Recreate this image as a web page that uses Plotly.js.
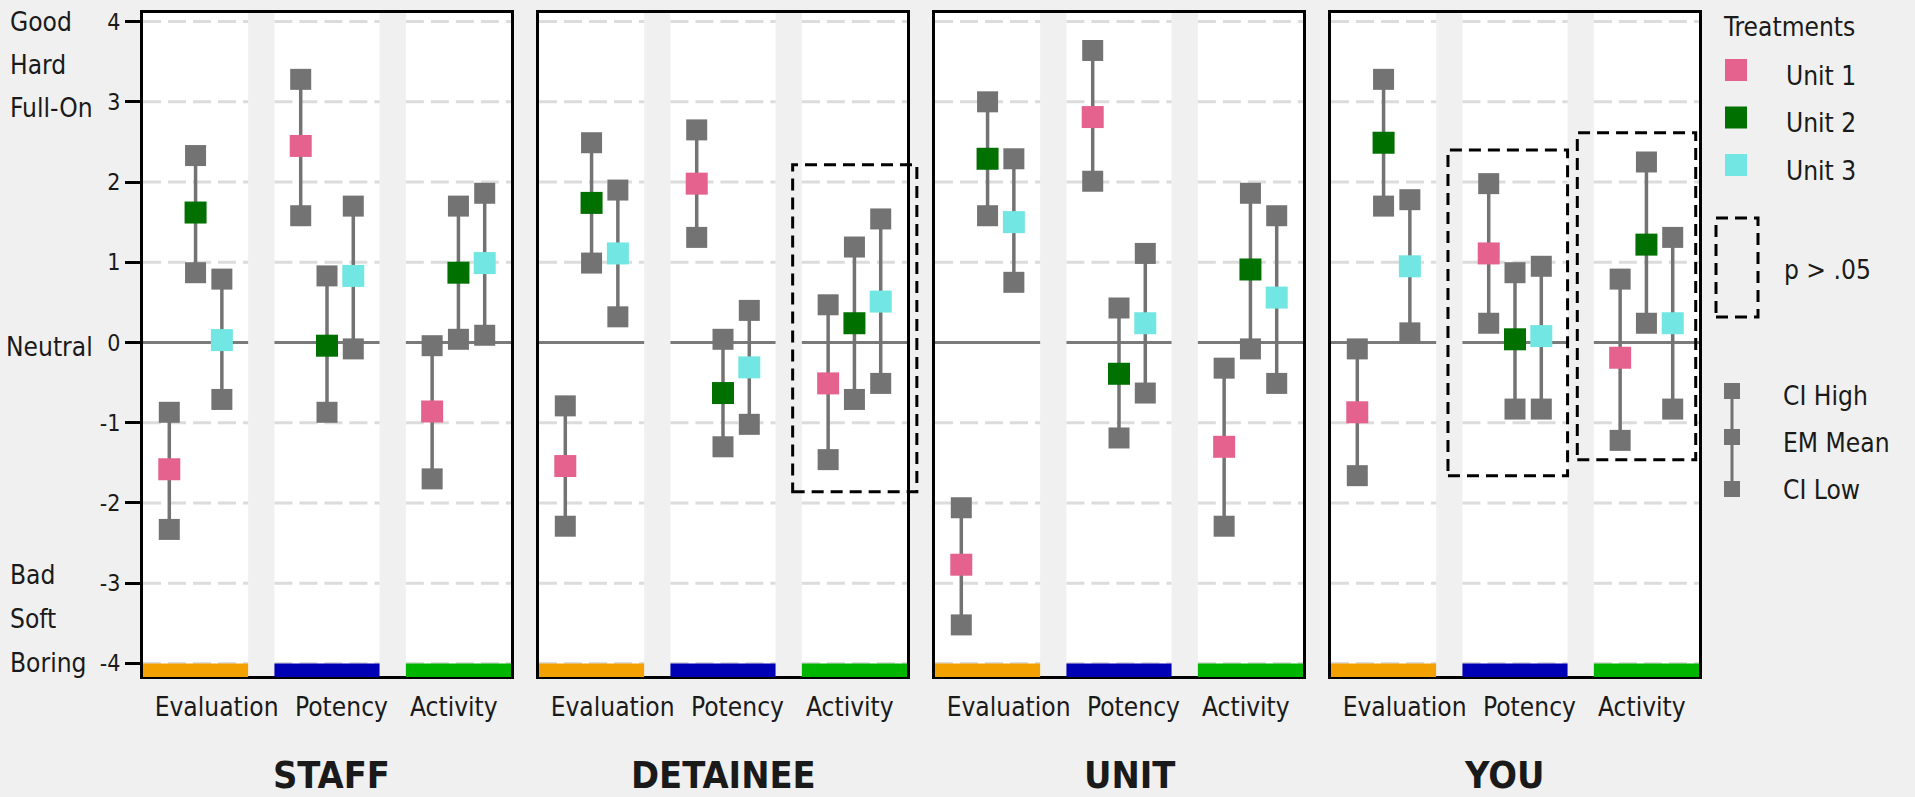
<!DOCTYPE html>
<html><head><meta charset="utf-8">
<script src="https://cdn.plot.ly/plotly-3.0.1.min.js"></script>
<style>html,body{margin:0;padding:0;background:#f0f0f0;}#chart{width:1915px;height:797px;}</style>
</head><body><div id="chart"></div>
<script>
// ---------------- data ----------------
const panels = ['STAFF', 'DETAINEE', 'UNIT', 'YOU'];
const dimensions = ['Evaluation', 'Potency', 'Activity'];
const treatments = ['Unit 1', 'Unit 2', 'Unit 3'];
const yTickVals = [-4, -3, -2, -1, 0, 1, 2, 3, 4];
const yTickText = ['-4', '-3', '-2', '-1', '0', '1', '2', '3', '4'];
const scaleLabels = ['Good', 'Hard', 'Full-On', 'Neutral', 'Bad', 'Soft', 'Boring'];
const ciLegendLabels = ['CI High', 'EM Mean', 'CI Low'];

// order: Evaluation U1,U2,U3 | Potency U1,U2,U3 | Activity U1,U2,U3
const staffMean = [-1.58, 1.62, 0.03, 2.45, -0.04, 0.83, -0.86, 0.87, 0.99];
const staffHigh = [-0.87, 2.33, 0.79, 3.28, 0.83, 1.70, -0.04, 1.70, 1.86];
const staffLow  = [-2.33, 0.87, -0.71, 1.58, -0.87, -0.08, -1.70, 0.04, 0.09];

const detaineeMean = [-1.54, 1.74, 1.11, 1.98, -0.63, -0.31, -0.51, 0.24, 0.51];
const detaineeHigh = [-0.79, 2.49, 1.90, 2.65, 0.04, 0.40, 0.47, 1.19, 1.54];
const detaineeLow  = [-2.29, 0.99, 0.32, 1.31, -1.30, -1.02, -1.46, -0.71, -0.51];

const unitMean = [-2.77, 2.29, 1.50, 2.81, -0.39, 0.24, -1.30, 0.91, 0.56];
const unitHigh = [-2.06, 3.00, 2.29, 3.64, 0.43, 1.11, -0.32, 1.86, 1.58];
const unitLow  = [-3.52, 1.58, 0.75, 2.01, -1.19, -0.63, -2.29, -0.08, -0.51];

const youMean = [-0.87, 2.49, 0.95, 1.11, 0.04, 0.08, -0.19, 1.22, 0.24];
const youHigh = [-0.08, 3.28, 1.78, 1.98, 0.87, 0.95, 0.79, 2.25, 1.31];
const youLow  = [-1.66, 1.70, 0.12, 0.24, -0.83, -0.83, -1.22, 0.24, -0.83];

// non-significant (p > .05) groups
const nsPanel = ['DETAINEE', 'YOU', 'YOU'];
const nsDimension = ['Activity', 'Potency', 'Activity'];

// ---------------- fonts ----------------
const ctx = document.createElement('canvas').getContext('2d');
function fontAvailable(name) {
  const s = 'Evaluation Potency Activity 0123';
  ctx.font = '50px monospace'; const m1 = ctx.measureText(s).width;
  ctx.font = "50px '" + name + "', monospace"; const w1 = ctx.measureText(s).width;
  ctx.font = '50px serif'; const m2 = ctx.measureText(s).width;
  ctx.font = "50px '" + name + "', serif"; const w2 = ctx.measureText(s).width;
  return Math.abs(w1 - m1) > 0.5 || Math.abs(w2 - m2) > 0.5;
}
const fontCandidates = ['Liberation Sans Narrow', 'Arial Narrow', 'DejaVu Sans Condensed', 'Liberation Sans'];
const FONTNAME = fontCandidates.find(fontAvailable) || 'Liberation Sans';
const FONT = "'" + FONTNAME + "', 'Liberation Sans', Arial, sans-serif";
function fitSize(text, targetW, bold) {
  ctx.font = (bold ? 'bold ' : '') + "100px " + FONT;
  return 100 * targetW / ctx.measureText(text).width;
}
const LABEL_SIZE = Math.min(33, fitSize('Evaluation', 124, false));
const TITLE_SIZE = Math.min(42, fitSize('STAFF', 117, true));
const TICK_SIZE = 23;

// ---------------- style ----------------
const means = [staffMean, detaineeMean, unitMean, youMean];
const highs = [staffHigh, detaineeHigh, unitHigh, youHigh];
const lows = [staffLow, detaineeLow, unitLow, youLow];
const unitColors = ['#E5628F', '#007000', '#72E6E2'];
const dimColors = ['#F2A100', '#0000B5', '#00B500'];
const GRAY = '#737373';
const BG = '#F0F0F0';
const TXT = '#1a1a1a';

const W = 1915, H = 797, ML = 143, MR = 216, MT = 13, MB = 121;
const plotW = W - ML - MR, plotH = H - MT - MB;
const YMIN = -4.157, YMAX = 4.107, XMIN = -0.4, XMAX = 2.4;
const panelW = 368, panelGap = 28;
const domains = panels.map((_, i) => [i * (panelW + panelGap) / plotW, (i * (panelW + panelGap) + panelW) / plotW]);
function paperX(p, x) { const d = domains[p]; return d[0] + (x - XMIN) / (XMAX - XMIN) * (d[1] - d[0]); }
function paperY(v) { return (v - YMIN) / (YMAX - YMIN); }
function pxX(px) { return (px - ML) / plotW; }
function pxY(py) { return (H - MB - py) / plotH; }

const offsets = [-0.2, 0, 0.2];
const labelShift = [0.16, 0.11, -0.035];
const titleShift = [4, 0, 10, -11];
const traces = [];
const shapes = [];
const annotations = [];
const layout = {
  width: W, height: H,
  margin: {l: ML, r: MR, t: MT, b: MB},
  paper_bgcolor: BG, plot_bgcolor: BG,
  showlegend: false,
  font: {family: FONT, color: TXT, size: LABEL_SIZE}
};

panels.forEach((pn, p) => {
  const s = p === 0 ? '' : String(p + 1);
  const xa = 'x' + s, ya = 'y' + s;
  layout['xaxis' + s] = {
    domain: domains[p], range: [XMIN, XMAX], anchor: ya, fixedrange: true,
    tickmode: 'array', tickvals: dimensions.map((d, k) => k + labelShift[k]), ticktext: dimensions,
    ticks: '', tickangle: 0, ticklabelstandoff: 6,
    showgrid: false, zeroline: false, showline: true, mirror: true,
    linecolor: '#000', linewidth: 3,
    tickfont: {family: FONT, size: LABEL_SIZE, color: TXT}
  };
  layout['yaxis' + s] = {
    domain: [0, 1], range: [YMIN, YMAX], anchor: xa, fixedrange: true,
    tickmode: 'array', tickvals: yTickVals, ticktext: yTickText,
    ticks: p === 0 ? 'outside' : '', ticklen: 15, tickwidth: 3, tickcolor: '#000',
    showticklabels: p === 0,
    showgrid: false, zeroline: false, showline: true, mirror: true,
    linecolor: '#000', linewidth: 3,
    tickfont: {family: FONT, size: TICK_SIZE, color: TXT}
  };

  dimensions.forEach((d, k) => {
    const x0 = paperX(p, k - 0.4), x1 = paperX(p, k + 0.4);
    shapes.push({type: 'rect', xref: 'paper', yref: 'paper', x0, x1, y0: 0, y1: 1,
      fillcolor: '#FFFFFF', line: {width: 0}, layer: 'below'});
    yTickVals.forEach(v => {
      if (v === 0) return;
      shapes.push({type: 'line', xref: 'paper', yref: 'paper', x0, x1, y0: paperY(v), y1: paperY(v),
        line: {color: '#DCDCDC', width: 3, dash: '18px,7px'}, layer: 'below'});
    });
    shapes.push({type: 'line', xref: 'paper', yref: 'paper', x0, x1, y0: paperY(0), y1: paperY(0),
      line: {color: '#7A7A7A', width: 3}, layer: 'below'});
    shapes.push({type: 'rect', xref: 'paper', yref: 'paper', x0, x1, y0: pxY(677), y1: paperY(-4),
      fillcolor: dimColors[k], line: {width: 0}, layer: 'above'});
  });

  treatments.forEach((t, u) => {
    const xs = [], ys = [];
    dimensions.forEach((d, k) => {
      const i = k * 3 + u;
      xs.push(k + offsets[u], k + offsets[u], null);
      ys.push(lows[p][i], highs[p][i], null);
    });
    traces.push({type: 'scatter', mode: 'lines+markers', x: xs, y: ys, xaxis: xa, yaxis: ya,
      line: {color: GRAY, width: 3.5}, marker: {symbol: 'square', size: 21, color: GRAY},
      hoverinfo: 'skip', showlegend: false, connectgaps: false});
  });
  treatments.forEach((t, u) => {
    traces.push({type: 'scatter', mode: 'markers', name: t,
      x: dimensions.map((d, k) => k + offsets[u]),
      y: dimensions.map((d, k) => means[p][k * 3 + u]),
      xaxis: xa, yaxis: ya,
      marker: {symbol: 'square', size: 22, color: unitColors[u]}, showlegend: false});
  });

  annotations.push({xref: 'paper', yref: 'paper', x: (domains[p][0] + domains[p][1]) / 2, y: pxY(791),
    xanchor: 'center', yanchor: 'bottom', xshift: titleShift[p], yshift: -0.22 * TITLE_SIZE,
    showarrow: false, text: '<b>' + pn + '</b>',
    font: {family: FONT, size: TITLE_SIZE, color: TXT}});
});

// significance boxes (geometry)
const nsBoxGeom = [
  {x0: -0.47, x1: 0.475, y0: -1.86, y1: 2.215},
  {x0: -0.51, x1: 0.40, y0: -1.66, y1: 2.40},
  {x0: -0.526, x1: 0.375, y0: -1.46, y1: 2.615}
];
nsPanel.forEach((pn, i) => {
  const p = panels.indexOf(pn), k = dimensions.indexOf(nsDimension[i]), g = nsBoxGeom[i];
  shapes.push({type: 'rect', xref: 'paper', yref: 'paper',
    x0: paperX(p, k + g.x0), x1: paperX(p, k + g.x1), y0: paperY(g.y0), y1: paperY(g.y1),
    line: {color: '#000', width: 3, dash: '12px,7px'}, fillcolor: 'rgba(0,0,0,0)', layer: 'above'});
});

// semantic scale labels on the left
const scaleLabelY = [4.0, 3.46, 2.92, -0.06, -2.9, -3.45, -3.99];
scaleLabels.forEach((lab, i) => {
  annotations.push({xref: 'paper', yref: 'y', x: pxX(i === 3 ? 4 : 8), y: scaleLabelY[i],
    xanchor: 'left', yanchor: 'middle', showarrow: false, text: lab,
    font: {family: FONT, size: LABEL_SIZE, color: TXT}});
});

// legend
annotations.push({xref: 'paper', yref: 'paper', x: pxX(1721), y: pxY(27), xanchor: 'left', yanchor: 'middle',
  showarrow: false, text: 'Treatments', font: {family: FONT, size: LABEL_SIZE, color: TXT}});
const legSqY = [70, 117.5, 165];
treatments.forEach((t, u) => {
  shapes.push({type: 'rect', xref: 'paper', yref: 'paper', x0: pxX(1725), x1: pxX(1747),
    y0: pxY(legSqY[u] + 11), y1: pxY(legSqY[u] - 11), fillcolor: unitColors[u], line: {width: 0}, layer: 'above'});
  annotations.push({xref: 'paper', yref: 'paper', x: pxX(1784), y: pxY(legSqY[u] + 6), xanchor: 'left', yanchor: 'middle',
    showarrow: false, text: t, font: {family: FONT, size: LABEL_SIZE, color: TXT}});
});
shapes.push({type: 'rect', xref: 'paper', yref: 'paper', x0: pxX(1716), x1: pxX(1758), y0: pxY(317), y1: pxY(218),
  line: {color: '#000', width: 3, dash: '12px,7px'}, fillcolor: 'rgba(0,0,0,0)', layer: 'above'});
annotations.push({xref: 'paper', yref: 'paper', x: pxX(1782), y: pxY(270), xanchor: 'left', yanchor: 'middle',
  showarrow: false, text: 'p > .05', font: {family: FONT, size: LABEL_SIZE, color: TXT}});
const ciY = [391, 437, 489], ciTxtY = [396, 443, 490];
shapes.push({type: 'line', xref: 'paper', yref: 'paper', x0: pxX(1732), x1: pxX(1732), y0: pxY(391), y1: pxY(489),
  line: {color: GRAY, width: 3}, layer: 'above'});
ciLegendLabels.forEach((lab, i) => {
  shapes.push({type: 'rect', xref: 'paper', yref: 'paper', x0: pxX(1724), x1: pxX(1740),
    y0: pxY(ciY[i] + 8), y1: pxY(ciY[i] - 8), fillcolor: GRAY, line: {width: 0}, layer: 'above'});
  annotations.push({xref: 'paper', yref: 'paper', x: pxX(1781), y: pxY(ciTxtY[i]), xanchor: 'left', yanchor: 'middle',
    showarrow: false, text: lab, font: {family: FONT, size: LABEL_SIZE, color: TXT}});
});

layout.shapes = shapes;
layout.annotations = annotations;
Plotly.newPlot('chart', traces, layout, {displayModeBar: false, staticPlot: true});
</script>
</body></html>
